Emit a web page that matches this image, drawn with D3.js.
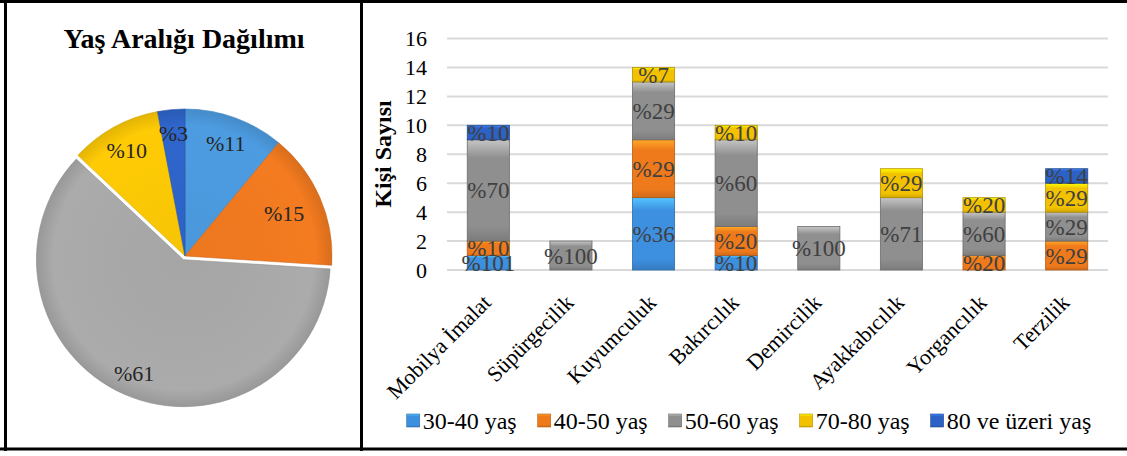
<!DOCTYPE html>
<html>
<head>
<script src="https://cdn.jsdelivr.net/npm/d3@7"></script>
<style>
  body { margin: 0; background: #fff; }
</style>
</head>
<body>
<svg width="1127" height="456"></svg>
<script>
// categories and series
var categories = ["Mobilya İmalat", "Süpürgecilik", "Kuyumculuk", "Bakırcılık", "Demircilik", "Ayakkabıcılık", "Yorgancılık", "Terzilik"];
var groups = ["30-40 yaş", "40-50 yaş", "50-60 yaş", "70-80 yaş", "80 ve üzeri yaş"];

var age3040 = [1, 0, 5, 1, 0, 0, 0, 0];
var age4050 = [1, 0, 4, 2, 0, 0, 1, 2];
var age5060 = [7, 2, 4, 6, 3, 5, 3, 2];
var age7080 = [0, 0, 1, 1, 0, 2, 1, 2];
var age80 = [1, 0, 0, 0, 0, 0, 0, 1];

var lab3040 = ["%101", "", "%36", "%10", "", "", "", ""];
var lab4050 = ["%10", "", "%29", "%20", "", "", "%20", "%29"];
var lab5060 = ["%70", "%100", "%29", "%60", "%100", "%71", "%60", "%29"];
var lab7080 = ["", "", "%7", "%10", "", "%29", "%20", "%29"];
var lab80 = ["%10", "", "", "", "", "", "", "%14"];

var pieValues = [11, 15, 61, 10, 3];
var pieLabels = ["%11", "%15", "%61", "%10", "%3"];

var yTicks = [0, 2, 4, 6, 8, 10, 12, 14, 16];

var series = [age3040, age4050, age5060, age7080, age80];
var seriesLabels = [lab3040, lab4050, lab5060, lab7080, lab80];

var barColors = ["#3d8fe0", "#ef7a1c", "#8f8f8f", "#f2c200", "#2c62c6"];
var pieColors = ["#4d9ce2", "#f47b20", "#ababab", "#ffcb05", "#2f66cc"];
var labelRadius = [120, 108, 124, 121, 123];
var FONT = "Times New Roman";

var svg = d3.select("svg");

// frame
svg.append("line").attr("x1", 0).attr("x2", 1127).attr("y1", 1.5).attr("y2", 1.5).attr("stroke", "#000").attr("stroke-width", 3);
svg.append("line").attr("x1", 0).attr("x2", 1127).attr("y1", 449).attr("y2", 449).attr("stroke", "#000").attr("stroke-width", 3);
svg.append("line").attr("x1", 5.5).attr("x2", 5.5).attr("y1", 0).attr("y2", 451).attr("stroke", "#000").attr("stroke-width", 3);
svg.append("line").attr("x1", 361.5).attr("x2", 361.5).attr("y1", 0).attr("y2", 451).attr("stroke", "#000").attr("stroke-width", 3);

// gradients for a bevel-ish look
var defs = svg.append("defs");
function shade(c, k) { return d3.color(c).brighter(k).formatHex(); }
barColors.forEach(function(c, i) {
  var g = defs.append("linearGradient").attr("id", "bg" + i).attr("x1", 0).attr("y1", 0).attr("x2", 0).attr("y2", 1);
  g.append("stop").attr("offset", "0%").attr("stop-color", shade(c, 0.9));
  g.append("stop").attr("offset", "18%").attr("stop-color", c);
  g.append("stop").attr("offset", "85%").attr("stop-color", c);
  g.append("stop").attr("offset", "100%").attr("stop-color", shade(c, -0.4));
});
pieColors.forEach(function(c, i) {
  var g = defs.append("radialGradient").attr("id", "pg" + i).attr("gradientUnits", "userSpaceOnUse")
    .attr("cx", 0).attr("cy", 0).attr("r", 148);
  g.append("stop").attr("offset", "0%").attr("stop-color", shade(c, -0.1));
  g.append("stop").attr("offset", "88%").attr("stop-color", c);
  g.append("stop").attr("offset", "100%").attr("stop-color", shade(c, -0.35));
});

// ---------- pie ----------
svg.append("text")
  .attr("x", 184).attr("y", 48)
  .attr("text-anchor", "middle")
  .attr("font-family", FONT)
  .attr("font-size", 28).attr("font-weight", "bold")
  .text("Yaş Aralığı Dağılımı");

var pieG = svg.append("g").attr("transform", "translate(185,256)");
var pie = d3.pie().sort(null).value(function(d) { return d; });
var arcs = pie(pieValues);
var arc = d3.arc().innerRadius(0).outerRadius(147);

var slices = pieG.selectAll("g.slice").data(arcs).enter().append("g")
  .attr("transform", function(d, i) {
    if (i !== 2) return null;
    var a = (d.startAngle + d.endAngle) / 2;
    return "translate(" + (4 * Math.sin(a)) + "," + (-4 * Math.cos(a)) + ")";
  });
slices.append("path")
  .attr("d", arc)
  .attr("fill", function(d, i) { return "url(#pg" + i + ")"; })
  .attr("stroke", function(d, i) { return shade(pieColors[i], -0.5); })
  .attr("stroke-width", 0.6);
slices.append("text")
  .attr("transform", function(d, i) {
    var la = d3.arc().innerRadius(labelRadius[i]).outerRadius(labelRadius[i]);
    return "translate(" + la.centroid(d) + ")";
  })
  .attr("text-anchor", "middle")
  .attr("dy", "0.35em")
  .attr("font-family", FONT)
  .attr("font-size", 22)
  .attr("fill", "#262626")
  .text(function(d, i) { return pieLabels[i]; });

// ---------- stacked bars ----------
var x = d3.scaleBand().domain(categories).range([447, 1108]).paddingInner(0.49).paddingOuter(0.245);
var y = d3.scaleLinear().domain([0, 16]).range([270, 38.5]);

svg.append("g").selectAll("line").data(yTicks).enter().append("line")
  .attr("x1", 447).attr("x2", 1108)
  .attr("y1", function(d) { return y(d); }).attr("y2", function(d) { return y(d); })
  .attr("stroke", "#d9d9d9").attr("stroke-width", 2);

// tick labels drawn by hand from the scale
svg.append("g").selectAll("text").data(yTicks).enter().append("text")
  .attr("x", 427).attr("y", function(d) { return y(d); })
  .attr("dy", "0.35em")
  .attr("text-anchor", "end")
  .attr("font-family", FONT)
  .attr("font-size", 22)
  .text(function(d) { return d; });

svg.append("text")
  .attr("transform", "translate(391,154) rotate(-90)")
  .attr("text-anchor", "middle")
  .attr("font-family", FONT)
  .attr("font-size", 24).attr("font-weight", "bold")
  .text("Kişi Sayısı");

var rows = categories.map(function(c, i) {
  var r = { cat: c };
  groups.forEach(function(g, j) { r[g] = series[j][i]; });
  return r;
});
var stacked = d3.stack().keys(groups)(rows);

stacked.forEach(function(layer, j) {
  svg.append("g").selectAll("rect").data(layer).enter().append("rect")
    .filter(function(d) { return d[1] > d[0]; })
    .attr("x", function(d) { return x(d.data.cat); })
    .attr("width", x.bandwidth())
    .attr("y", function(d) { return y(d[1]); })
    .attr("height", function(d) { return y(d[0]) - y(d[1]); })
    .attr("fill", "url(#bg" + j + ")")
    .attr("stroke", shade(barColors[j], -0.8))
    .attr("stroke-width", 0.8);
});

stacked.forEach(function(layer, j) {
  svg.append("g").selectAll("text").data(layer).enter().append("text")
    .filter(function(d, i) { return d[1] > d[0] && seriesLabels[j][i] !== ""; })
    .attr("x", function(d) { return x(d.data.cat) + x.bandwidth() / 2; })
    .attr("y", function(d) { return (y(d[0]) + y(d[1])) / 2; })
    .attr("dy", "0.35em")
    .attr("text-anchor", "middle")
    .attr("font-family", FONT)
    .attr("font-size", 23)
    .attr("fill", "#404040")
    .text(function(d) { return seriesLabels[j][categories.indexOf(d.data.cat)]; });
});

// x labels
svg.append("g").selectAll("text").data(categories).enter().append("text")
  .attr("transform", function(d) { return "translate(" + (x(d) + x.bandwidth() / 2 + 4) + ",304) rotate(-45)"; })
  .attr("text-anchor", "end")
  .attr("font-family", FONT)
  .attr("font-size", 22)
  .text(function(d) { return d; });

// legend
var leg = svg.append("g");
var items = leg.selectAll("g").data(groups).enter().append("g");
items.append("rect").attr("width", 13).attr("height", 13).attr("y", 414)
  .attr("fill", function(d, i) { return "url(#bg" + i + ")"; })
  .attr("stroke", function(d, i) { return shade(barColors[i], -0.8); }).attr("stroke-width", 0.6);
items.append("text").attr("x", 16).attr("y", 429)
  .attr("font-family", FONT).attr("font-size", 24).text(function(d) { return d; });
var cx = 0;
items.each(function() {
  var w = 16 + d3.select(this).select("text").node().getComputedTextLength();
  d3.select(this).attr("transform", "translate(" + cx + ",0)");
  cx += w + 21;
});
var total = cx - 21;
leg.attr("transform", "translate(" + (749 - total / 2) + ",0)");
</script>
</body>
</html>
